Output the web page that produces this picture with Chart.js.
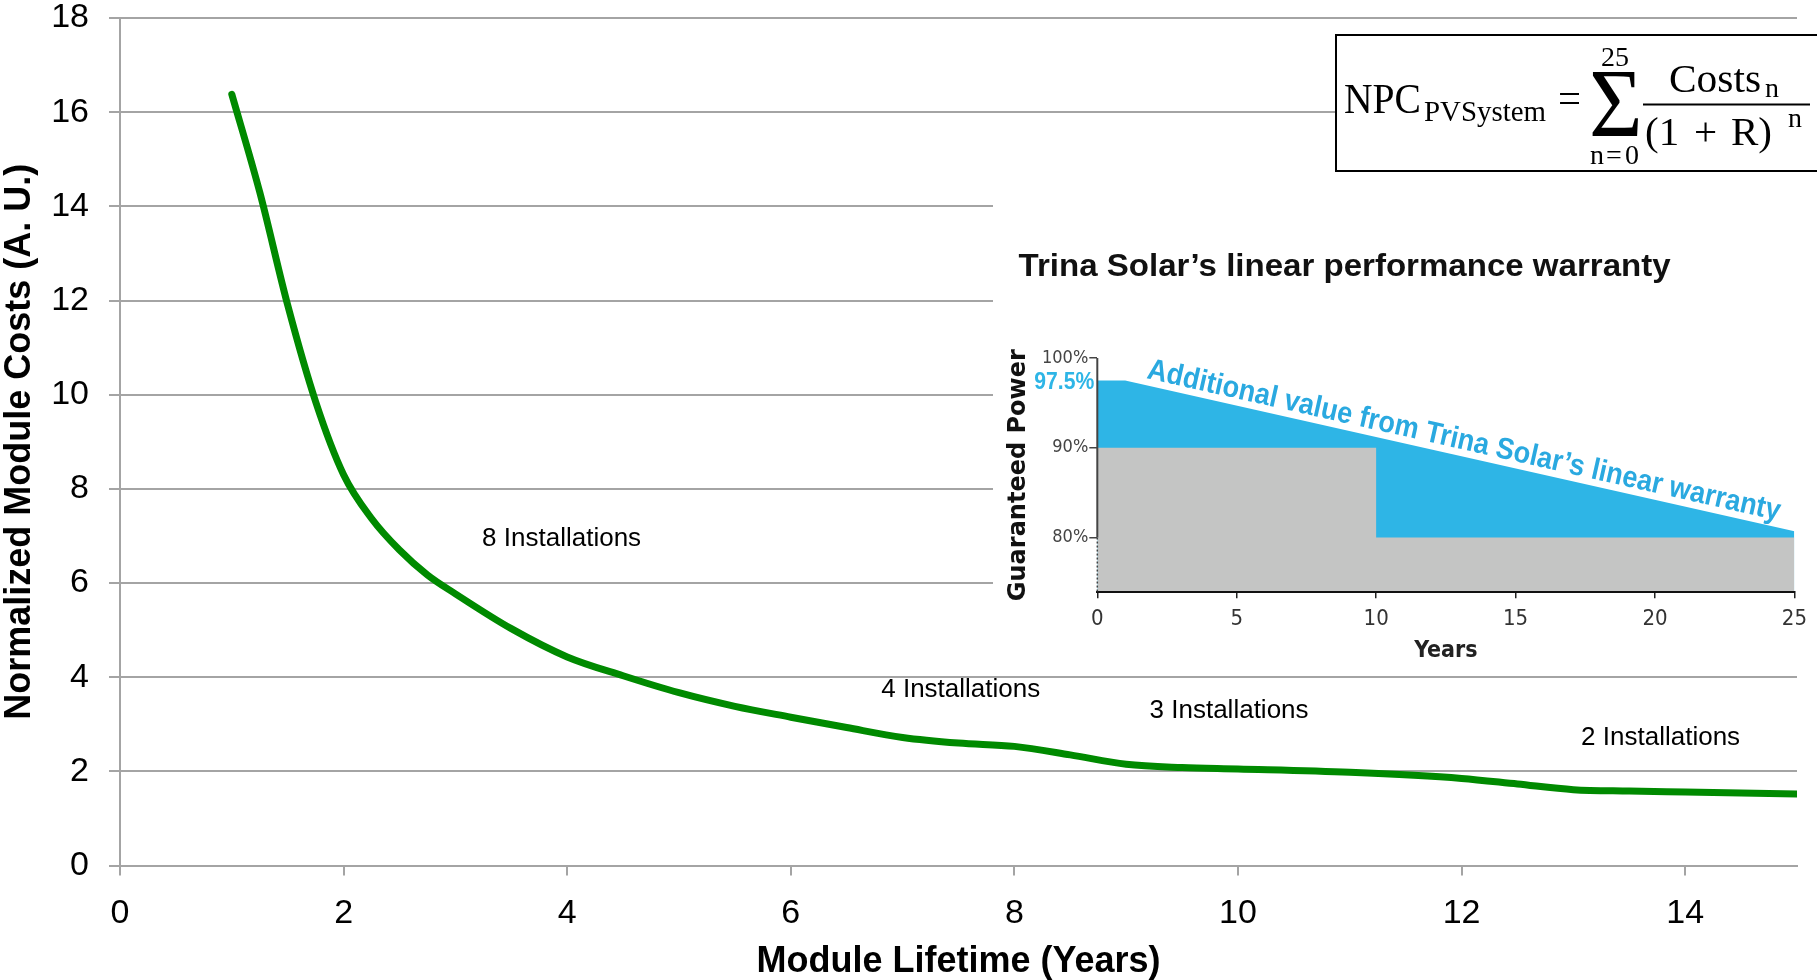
<!DOCTYPE html>
<html>
<head>
<meta charset="utf-8">
<title>Module costs vs lifetime</title>
<script src="https://cdn.jsdelivr.net/npm/chart.js@4.4.1/dist/chart.umd.min.js"></script>
<style>
  html, body { margin: 0; padding: 0; background: #fff; }
  #wrap { position: relative; width: 1817px; height: 980px; overflow: hidden; }
  #main { position: absolute; left: 0; top: 0; }
  #inset { position: absolute; left: 993px; top: 180px; background: #fff; }
</style>
</head>
<body>
<div id="wrap">
  <canvas id="main" width="1817" height="980"></canvas>
  <canvas id="inset" width="824" height="488"></canvas>
</div>
<script>
// main curve
const lifetimeYears = [1, 1.25, 1.5, 1.75, 2, 2.25, 2.5, 2.75, 3, 3.5, 4, 4.5, 5, 5.5, 6, 6.5, 7, 7.5, 8, 8.5, 9, 9.5, 10, 11, 12, 12.5, 13, 13.5, 14, 15];
const moduleCosts = [16.38, 14.3, 11.9, 9.85, 8.3, 7.37, 6.7, 6.17, 5.77, 5.03, 4.43, 4.03, 3.67, 3.38, 3.15, 2.93, 2.72, 2.6, 2.53, 2.35, 2.15, 2.08, 2.05, 1.98, 1.85, 1.73, 1.61, 1.58, 1.56, 1.52];

// text notes on the main chart, placed in data units
const installLabels = ['8 Installations', '4 Installations', '3 Installations', '2 Installations'];
const installX = [3.95, 7.52, 9.92, 13.78];
const installY = [6.93, 3.73, 3.29, 2.72];

// inset: Trina Solar warranty
const warrantyYears = [0, 1, 25];
const warrantyLinear = [97.5, 97.5, 80.7];
const stepYears = [0, 10, 10, 25];
const stepGuarantee = [90, 90, 80, 80];

const SANS = '"Liberation Sans", Arial, sans-serif';
const NARROW = '"Liberation Sans Narrow", "Arial Narrow", "DejaVu Sans Condensed", Roboto, sans-serif';
const SERIF = '"Liberation Serif", "Times New Roman", serif';
const GRID = '#a4a4a4';
const BLUE = '#2eb5e6';

// squeeze/stretch a string to a given width
function fitText(ctx, text, x, y, width) {
  const w = ctx.measureText(text).width;
  ctx.save();
  ctx.translate(x, y);
  ctx.scale(width / w, 1);
  ctx.fillText(text, 0, 0);
  ctx.restore();
}

const installPlugin = {
  id: 'installLabels',
  afterDatasetsDraw(chart) {
    const {ctx, scales: {x, y}} = chart;
    ctx.save();
    ctx.font = '26px ' + SANS;
    ctx.fillStyle = '#000';
    ctx.textAlign = 'center';
    ctx.textBaseline = 'middle';
    installLabels.forEach((t, i) => {
      ctx.fillText(t, x.getPixelForValue(installX[i]), y.getPixelForValue(installY[i]));
    });
    ctx.restore();
  }
};

const formulaPlugin = {
  id: 'npcFormula',
  afterDraw(chart) {
    const ctx = chart.ctx;
    ctx.save();
    ctx.fillStyle = '#fff';
    ctx.fillRect(1336, 35, 490, 136);
    ctx.strokeStyle = '#000';
    ctx.lineWidth = 2;
    ctx.strokeRect(1336, 35, 490, 136);

    ctx.fillStyle = '#000';
    ctx.textBaseline = 'alphabetic';
    ctx.textAlign = 'left';
    ctx.font = '42px ' + SERIF;
    fitText(ctx, 'NPC', 1344, 113, 77);
    ctx.font = '29px ' + SERIF;
    fitText(ctx, 'PVSystem', 1424, 121, 122);
    ctx.font = '42px ' + SERIF;
    fitText(ctx, '=', 1558, 112, 23);

    // sigma
    ctx.font = '96px ' + SERIF;
    const m = ctx.measureText('\u03A3');
    const gw = m.actualBoundingBoxLeft + m.actualBoundingBoxRight;
    const gh = m.actualBoundingBoxAscent + m.actualBoundingBoxDescent;
    ctx.save();
    ctx.translate(1592, 72);
    ctx.scale(47 / gw, 64 / gh);
    ctx.fillText('\u03A3', m.actualBoundingBoxLeft, m.actualBoundingBoxAscent);
    ctx.restore();

    ctx.font = '28px ' + SERIF;
    ctx.fillText('25', 1601, 66);
    ctx.fillText('n', 1590, 164);
    ctx.fillText('=', 1606, 164);
    ctx.fillText('0', 1625, 164);

    ctx.font = '41px ' + SERIF;
    fitText(ctx, 'Costs', 1669, 92, 92);
    ctx.font = '28px ' + SERIF;
    ctx.fillText('n', 1765, 97);

    ctx.fillRect(1643, 103.5, 167, 2);

    ctx.font = '41px ' + SERIF;
    ctx.fillText('(1', 1645, 145);
    ctx.fillText('+', 1694, 145);
    ctx.fillText('R)', 1731, 145);
    ctx.font = '28px ' + SERIF;
    ctx.fillText('n', 1788, 127);
    ctx.restore();
  }
};

new Chart(document.getElementById('main'), {
  type: 'line',
  data: {
    datasets: [{
      data: lifetimeYears.map((x, i) => ({x: x, y: moduleCosts[i]})),
      borderColor: '#008a00',
      borderWidth: 7,
      borderCapStyle: 'round',
      pointRadius: 0,
      cubicInterpolationMode: 'monotone',
      fill: false
    }]
  },
  options: {
    responsive: false,
    animation: false,
    layout: {padding: {top: 0, right: 20, bottom: 0, left: 0}},
    plugins: {legend: {display: false}, tooltip: {enabled: false}},
    scales: {
      x: {
        type: 'linear', min: 0, max: 15,
        ticks: {stepSize: 2, includeBounds: false, maxRotation: 0, color: '#000', padding: 21,
          font: {family: SANS, size: 34, lineHeight: 1}},
        grid: {drawOnChartArea: false, tickLength: 10, color: GRID, lineWidth: 2},
        border: {color: GRID, width: 2},
        title: {display: true, text: 'Module Lifetime (Years)', color: '#000', padding: {top: 0, bottom: 0},
          font: {family: SANS, size: 36, weight: 'bold', lineHeight: 1}},
        afterFit: s => { s.height = 114.5; }
      },
      y: {
        min: 0, max: 18,
        ticks: {stepSize: 2, color: '#000', padding: 20, font: {family: SANS, size: 34, lineHeight: 1}},
        grid: {color: GRID, lineWidth: 2, tickLength: 11},
        border: {color: GRID, width: 2},
        title: {display: true, text: 'Normalized Module Costs (A. U.)', color: '#000', padding: 0,
          font: {family: SANS, size: 36, weight: 'bold', lineHeight: 1.12}},
        afterFit: s => { s.width = 120; s.paddingTop = 18; s.paddingBottom = 0; }
      }
    }
  },
  plugins: [installPlugin, formulaPlugin]
});

const insetPlugin = {
  id: 'warrantyText',
  afterDraw(chart) {
    const {ctx, chartArea, scales: {x, y}} = chart;
    ctx.save();
    // y axis: solid above 80 %, dotted below
    const left = chartArea.left;
    ctx.strokeStyle = '#444';
    ctx.lineWidth = 2;
    ctx.beginPath();
    ctx.moveTo(left, y.getPixelForValue(100));
    ctx.lineTo(left, y.getPixelForValue(80));
    ctx.stroke();
    ctx.setLineDash([2, 2]);
    ctx.lineWidth = 1.5;
    ctx.beginPath();
    ctx.moveTo(left, y.getPixelForValue(80));
    ctx.lineTo(left, chartArea.bottom);
    ctx.stroke();
    ctx.setLineDash([]);

    // title
    ctx.fillStyle = '#111';
    ctx.textAlign = 'left';
    ctx.textBaseline = 'alphabetic';
    ctx.font = 'bold 31px ' + SANS;
    fitText(ctx, 'Trina Solar\u2019s linear performance warranty', 25.6, 95.5, 652);

    // 97.5 % label
    ctx.fillStyle = BLUE;
    ctx.textAlign = 'right';
    ctx.textBaseline = 'middle';
    ctx.font = 'bold 23px ' + SANS;
    fitText(ctx, warrantyLinear[0] + '%', left - 3, y.getPixelForValue(warrantyLinear[0]) + 2, 60);

    // slanted note along the linear warranty
    const x1 = x.getPixelForValue(warrantyYears[1]), y1 = y.getPixelForValue(warrantyLinear[1]);
    const x2 = x.getPixelForValue(warrantyYears[2]), y2 = y.getPixelForValue(warrantyLinear[2]);
    const ang = Math.atan2(y2 - y1, x2 - x1);
    const sx = x.getPixelForValue(1.69);
    const sy = y1 + (sx - x1) * Math.tan(ang);
    ctx.translate(sx, sy);
    ctx.rotate(ang);
    ctx.textAlign = 'left';
    ctx.textBaseline = 'alphabetic';
    ctx.font = 'bold 30px ' + SANS;
    ctx.fillStyle = '#2aa9e0';
    fitText(ctx, 'Additional value from Trina Solar\u2019s linear warranty', 0, -7, 648);
    ctx.restore();
  }
};

new Chart(document.getElementById('inset'), {
  type: 'line',
  data: {
    datasets: [{
      data: stepYears.map((x, i) => ({x: x, y: stepGuarantee[i]})),
      borderWidth: 0,
      borderColor: 'rgba(0,0,0,0)',
      backgroundColor: '#c4c5c4',
      pointRadius: 0,
      fill: 'start'
    }, {
      data: warrantyYears.map((x, i) => ({x: x, y: warrantyLinear[i]})),
      borderWidth: 0,
      borderColor: 'rgba(0,0,0,0)',
      backgroundColor: BLUE,
      pointRadius: 0,
      fill: 'start'
    }]
  },
  options: {
    responsive: false,
    animation: false,
    layout: {padding: {top: 178, right: 16, bottom: 0, left: 0}},
    plugins: {legend: {display: false}, tooltip: {enabled: false}},
    scales: {
      x: {
        type: 'linear', min: 0, max: 25,
        ticks: {stepSize: 5, maxRotation: 0, color: '#333', padding: 10, font: {family: NARROW, size: 22, lineHeight: 1}},
        grid: {drawOnChartArea: false, tickLength: 6, color: '#222', lineWidth: 1.5},
        border: {color: '#111', width: 2, z: 1},
        title: {display: true, text: 'Years', color: '#222', padding: {top: 0, bottom: 3},
          font: {family: NARROW, size: 23, weight: 'bold', lineHeight: 1.2}},
        afterFit: s => { s.height = 75.7; }
      },
      y: {
        min: 73.9, max: 100,
        ticks: {stepSize: 10, includeBounds: false, color: '#444', padding: 1,
          font: {family: NARROW, size: 18, lineHeight: 1}, callback: v => v + '%'},
        grid: {drawOnChartArea: false, tickLength: 8, color: '#444', lineWidth: 1.5},
        border: {display: false},
        title: {display: true, text: 'Guaranteed Power', color: '#111', padding: {top: 13, bottom: 0},
          font: {family: '"DejaVu Sans", Verdana, sans-serif', size: 24, weight: 'bold', lineHeight: 1.1}},
        afterFit: s => { s.width = 104.3; }
      }
    }
  },
  plugins: [insetPlugin]
});
</script>
</body>
</html>
